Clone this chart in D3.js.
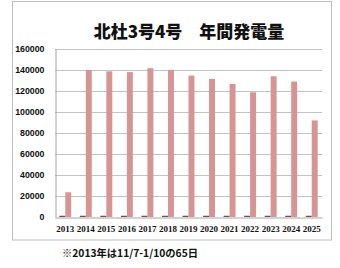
<!DOCTYPE html>
<html>
<head>
<meta charset="utf-8">
<script src="https://cdn.jsdelivr.net/npm/d3@7"></script>
<style>
  html, body { margin: 0; padding: 0; background: #fff; }
  svg { display: block; }
</style>
</head>
<body>
<div id="chart"></div>
<script>
const years = ['2013', '2014', '2015', '2016', '2017', '2018', '2019', '2020', '2021', '2022', '2023', '2024', '2025'];
// small first series (barely visible near zero)
const minorValues = [1200, 1200, 1200, 1200, 1200, 1200, 1200, 1200, 1200, 1200, 1200, 1200, 1200];
// annual generation
const annualValues = [23500, 139600, 138300, 137600, 141300, 139700, 134300, 131100, 126300, 118400, 133600, 128600, 91700];
const yTicks = [0, 20000, 40000, 60000, 80000, 100000, 120000, 140000, 160000];
const titleText = '北杜3号4号　年間発電量';
const noteText = '※2013年は11/7-1/10の65日';

const width = 340;
const height = 268;
const plot = { left: 55, right: 322, top: 48.5, bottom: 217 };

const svg = d3.select('#chart')
  .append('svg')
  .attr('width', width)
  .attr('height', height);

// chart frame
svg.append('rect')
  .attr('x', 12.5).attr('y', 1.5)
  .attr('width', 319).attr('height', 238.5)
  .attr('fill', '#fff')
  .attr('stroke', '#bdbdbd')
  .attr('stroke-width', 1);

svg.append('text')
  .attr('x', 189)
  .attr('y', 38)
  .attr('text-anchor', 'middle')
  .attr('font-family', "'Noto Sans CJK JP', sans-serif")
  .attr('font-weight', 900)
  .attr('font-size', '17px')
  .attr('fill', '#111')
  .text(titleText);

const x = d3.scaleBand()
  .domain(years)
  .range([plot.left, plot.right])
  .paddingInner(0.42)
  .paddingOuter(0.21);

const xs = d3.scaleBand()
  .domain(['minor', 'annual'])
  .range([0, x.bandwidth()]);

const y = d3.scaleLinear()
  .domain([0, 160000])
  .range([plot.bottom, plot.top]);

// gridlines
svg.append('g')
  .selectAll('line')
  .data(yTicks.filter((d) => d > 0))
  .enter()
  .append('line')
  .attr('x1', plot.left)
  .attr('x2', plot.right)
  .attr('y1', (d) => Math.round(y(d)) + 0.5)
  .attr('y2', (d) => Math.round(y(d)) + 0.5)
  .attr('stroke', '#c4c4c4')
  .attr('stroke-width', 1.2);

// y axis
const yAxis = svg.append('g')
  .attr('transform', `translate(${plot.left + 0.5},0)`)
  .call(d3.axisLeft(y).tickValues(yTicks).tickSize(0).tickPadding(11).tickFormat(d3.format('d')));
yAxis.select('.domain').attr('stroke', '#a6a6a6');
yAxis.selectAll('text')
  .attr('font-family', "'Liberation Sans', Arial, sans-serif")
  .attr('font-weight', 700)
  .attr('font-size', '8.8px')
  .attr('fill', '#111');

// bars
const groups = svg.append('g')
  .selectAll('g')
  .data(years.map((yr, i) => ({ year: yr, minor: minorValues[i], annual: annualValues[i] })))
  .enter()
  .append('g')
  .attr('transform', (d) => `translate(${x(d.year)},0)`);

groups.append('rect')
  .attr('x', xs('minor'))
  .attr('width', xs.bandwidth())
  .attr('y', (d) => y(d.minor))
  .attr('height', (d) => y(0) - y(d.minor))
  .attr('fill', '#7d4b4b');

groups.append('rect')
  .attr('x', xs('annual'))
  .attr('width', xs.bandwidth())
  .attr('y', (d) => y(d.annual))
  .attr('height', (d) => y(0) - y(d.annual))
  .attr('fill', '#d69494');

// x axis
const xAxis = svg.append('g')
  .attr('transform', `translate(0,${plot.bottom + 0.5})`)
  .call(d3.axisBottom(x).tickSize(0).tickPadding(8));
xAxis.select('.domain').attr('stroke', '#a6a6a6');
xAxis.selectAll('text')
  .attr('font-family', "'Liberation Serif', 'DejaVu Serif', serif")
  .attr('font-weight', 700)
  .attr('font-size', '9px')
  .attr('fill', '#111');

svg.append('text')
  .attr('x', 62)
  .attr('y', 257)
  .attr('font-family', "'Noto Sans CJK JP', sans-serif")
  .attr('font-weight', 700)
  .attr('font-size', '10.5px')
  .attr('textLength', 136)
  .attr('lengthAdjust', 'spacingAndGlyphs')
  .attr('fill', '#111')
  .text(noteText);
</script>
</body>
</html>
